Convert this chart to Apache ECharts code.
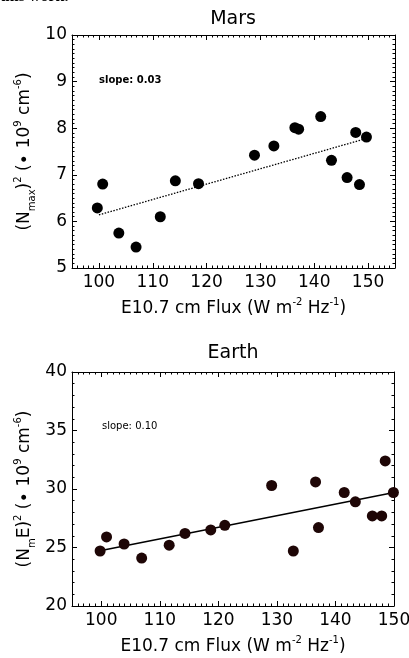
<!DOCTYPE html>
<html>
<head>
<meta charset="utf-8">
<script src="https://cdn.jsdelivr.net/npm/echarts@6/dist/echarts.min.js"></script>
<style>
html,body{margin:0;padding:0;background:#fff;}
#chart{width:409px;height:658px;}
</style>
</head>
<body>
<div id="chart"></div>
<script>
// ---- Data ----
const marsFlux = [99.7, 100.7, 103.7, 106.9, 111.4, 114.2, 118.5, 128.9, 132.5, 136.4, 137.1, 141.2, 143.2, 146.1, 147.7, 148.4, 149.7];
const marsNmax2 = [6.29, 6.80, 5.75, 5.45, 6.10, 6.87, 6.81, 7.42, 7.62, 8.01, 7.98, 8.25, 7.31, 6.94, 7.91, 6.79, 7.81];
const marsFitX = [100, 150];
const marsFitY = [6.14, 7.79];

const earthFlux = [99.8, 100.9, 103.9, 106.9, 111.6, 114.3, 118.7, 121.1, 129.1, 132.8, 136.6, 137.1, 141.5, 143.4, 146.3, 147.9, 148.5, 149.9];
const earthNmE2 = [24.7, 25.9, 25.3, 24.1, 25.2, 26.2, 26.5, 26.9, 30.3, 24.7, 30.6, 26.7, 29.7, 28.9, 27.7, 27.7, 32.4, 29.7];
const earthFitX = [100, 150];
const earthFitY = [24.75, 29.7];

const xTickLabels = [100, 110, 120, 130, 140, 150];
const marsYTicks = [5, 6, 7, 8, 9, 10];
const earthYTicks = [20, 25, 30, 35, 40];

const titles = ['Mars', 'Earth'];
const slopeTexts = ['slope: 0.03', 'slope: 0.10'];

// ---- Helpers ----
const FONT = 'DejaVu Sans';
const pairs = (xs, ys) => xs.map((x, i) => [x, ys[i]]);

const richStyles = {
  n: { fontSize: 17, fontFamily: FONT, color: '#000', lineHeight: 24, verticalAlign: 'middle' },
  sup: { fontSize: 10, fontFamily: FONT, color: '#000', lineHeight: 24, verticalAlign: 'top' },
  sub: { fontSize: 10, fontFamily: FONT, color: '#000', lineHeight: 24, verticalAlign: 'bottom' }
};

const xName = '{n|E10.7 cm Flux (W m}{sup|-2}{n| Hz}{sup|-1}{n|)}';
const yNames = [
  '{n|(N}{sub|max}{n|)}{sup|2}{n| (\u2219 10}{sup|9}{n| cm}{sup|-6}{n|)}',
  '{n|(N}{sub|m}{n|E)}{sup|2}{n| (\u2219 10}{sup|9}{n| cm}{sup|-6}{n|)}'
];

const grids = [
  { left: 72, top: 35, width: 323, height: 233 },
  { left: 72, top: 372, width: 322, height: 234 }
];
const xRanges = [[95, 155], [95, 150]];
// [min, max, major interval, minor interval]
const yRanges = [[5, 10, 1, 0.1], [20, 40, 5, 1]];

const xAxes = [], yAxes = [];
const lineStyle = { color: '#000', width: 1 };
const noLabel = { show: false };
const noSplit = { show: false };

grids.forEach((g, gi) => {
  const [xmin, xmax] = xRanges[gi];
  // bottom major
  xAxes.push({
    type: 'value', gridIndex: gi, position: 'bottom', min: xmin, max: xmax,
    axisLine: { show: true, onZero: false, lineStyle },
    axisTick: { show: true, inside: true, length: 5, lineStyle, customValues: xTickLabels },
    axisLabel: { show: true, customValues: xTickLabels, fontSize: 17, fontFamily: FONT, color: '#000', margin: 6, hideOverlap: false, showMinLabel: true, showMaxLabel: true },
    splitLine: noSplit,
    name: xName, nameLocation: 'middle', nameGap: 29, nameMoveOverlap: false,
    nameTextStyle: { rich: richStyles }
  });
  // bottom minor
  xAxes.push({
    type: 'value', gridIndex: gi, position: 'bottom', min: xmin, max: xmax, interval: 1,
    axisLine: { show: false, onZero: false },
    axisTick: { show: true, inside: true, length: 2.5, lineStyle },
    axisLabel: noLabel, splitLine: noSplit
  });
  // top major
  xAxes.push({
    type: 'value', gridIndex: gi, position: 'top', min: xmin, max: xmax,
    axisLine: { show: true, onZero: false, lineStyle },
    axisTick: { show: true, inside: true, length: 5, lineStyle, customValues: xTickLabels },
    axisLabel: noLabel, splitLine: noSplit
  });
  // top minor
  xAxes.push({
    type: 'value', gridIndex: gi, position: 'top', min: xmin, max: xmax, interval: 1,
    axisLine: { show: false, onZero: false },
    axisTick: { show: true, inside: true, length: 2.5, lineStyle },
    axisLabel: noLabel, splitLine: noSplit
  });

  const [ymin, ymax, yint, yminor] = yRanges[gi];
  yAxes.push({
    type: 'value', gridIndex: gi, position: 'left', min: ymin, max: ymax, interval: yint,
    axisLine: { show: true, onZero: false, lineStyle },
    axisTick: { show: true, inside: true, length: 5, lineStyle },
    axisLabel: { show: true, fontSize: 17, fontFamily: FONT, color: '#000', margin: 5 },
    splitLine: noSplit,
    name: yNames[gi], nameLocation: 'middle', nameGap: 35, nameMoveOverlap: false,
    nameTextStyle: { rich: richStyles }
  });
  yAxes.push({
    type: 'value', gridIndex: gi, position: 'left', min: ymin, max: ymax, interval: yminor,
    axisLine: { show: false, onZero: false },
    axisTick: { show: true, inside: true, length: 2.5, lineStyle },
    axisLabel: noLabel, splitLine: noSplit
  });
  yAxes.push({
    type: 'value', gridIndex: gi, position: 'right', min: ymin, max: ymax, interval: yint,
    axisLine: { show: true, onZero: false, lineStyle },
    axisTick: { show: true, inside: true, length: 5, lineStyle },
    axisLabel: noLabel, splitLine: noSplit
  });
  yAxes.push({
    type: 'value', gridIndex: gi, position: 'right', min: ymin, max: ymax, interval: yminor,
    axisLine: { show: false, onZero: false },
    axisTick: { show: true, inside: true, length: 2.5, lineStyle },
    axisLabel: noLabel, splitLine: noSplit
  });
});

const chart = echarts.init(document.getElementById('chart'), null, { renderer: 'canvas' });
const titleStyle = { fontSize: 19, fontWeight: 'normal', fontFamily: FONT, color: '#000' };
chart.setOption({
  backgroundColor: '#fff',
  animation: false,
  title: [
    { text: titles[0], top: 10, left: 233, textAlign: 'center', padding: 0, textStyle: titleStyle },
    { text: titles[1], top: 344, left: 233, textAlign: 'center', padding: 0, textStyle: titleStyle }
  ],
  grid: grids.map(g => Object.assign({ containLabel: false, outerBoundsMode: 'none' }, g)),
  xAxis: xAxes,
  yAxis: yAxes,
  graphic: [
    { type: 'text', left: 0, top: -11, style: { text: 'this work.', font: 'bold 16px "Liberation Serif"', fill: '#000' } },
    { type: 'text', left: 99, top: 75, style: { text: slopeTexts[0], font: 'bold 10px "DejaVu Sans"', fill: '#000' } },
    { type: 'text', left: 102, top: 421, style: { text: slopeTexts[1], font: '10px "DejaVu Sans"', fill: '#000' } }
  ],
  series: [
    { type: 'scatter', xAxisIndex: 0, yAxisIndex: 0, data: pairs(marsFlux, marsNmax2),
      symbolSize: 11, itemStyle: { color: '#000', opacity: 1 }, z: 3 },
    { type: 'line', xAxisIndex: 0, yAxisIndex: 0, data: pairs(marsFitX, marsFitY),
      showSymbol: false, symbol: 'none', lineStyle: { color: '#000', width: 1.3, type: [1.5, 1.5] }, z: 2, silent: true },
    { type: 'scatter', xAxisIndex: 4, yAxisIndex: 4, data: pairs(earthFlux, earthNmE2),
      symbolSize: 11, itemStyle: { color: '#1e0606', opacity: 1 }, z: 3, clip: false },
    { type: 'line', xAxisIndex: 4, yAxisIndex: 4, data: pairs(earthFitX, earthFitY),
      showSymbol: false, symbol: 'none', lineStyle: { color: '#000', width: 1.5 }, z: 2, silent: true }
  ]
});
</script>
</body>
</html>
